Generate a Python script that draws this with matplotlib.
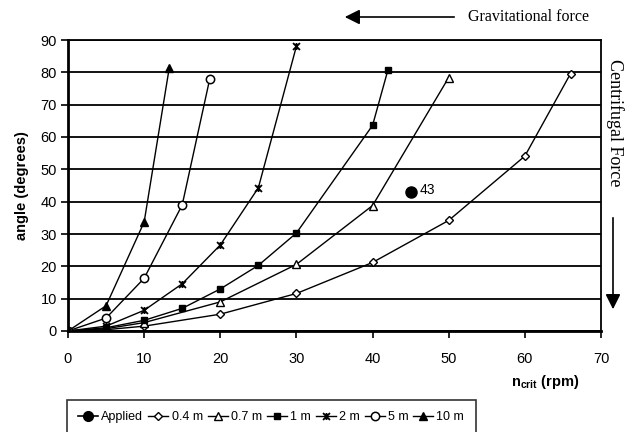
import matplotlib
matplotlib.use("Agg")
import matplotlib.pyplot as plt
from matplotlib.path import Path

plt.rcParams['font.family'] = ['Liberation Sans', 'DejaVu Sans']

applied_x = [45]
applied_y = [43]

x_04 = [0, 5, 10, 20, 30, 40, 50, 60, 66]
y_04 = [0, 0.4, 1.5, 5.2, 11.6, 21.2, 34.2, 54.1, 79.6]

x_07 = [0, 5, 10, 20, 30, 40, 50]
y_07 = [0, 0.7, 2.6, 9.0, 20.6, 38.8, 78.4]

x_1 = [0, 5, 10, 15, 20, 25, 30, 40, 42]
y_1 = [0, 1.0, 3.3, 7.0, 13.0, 20.3, 30.3, 63.6, 80.6]

x_2 = [0, 5, 10, 15, 20, 25, 30]
y_2 = [0, 1.5, 6.4, 14.6, 26.6, 44.3, 88.1]

x_5 = [0, 5, 10, 15, 18.6]
y_5 = [0, 4.0, 16.3, 39.0, 77.8]

x_10 = [0, 5, 10, 13.3]
y_10 = [0, 7.8, 33.7, 81.4]

x_ticks = [0, 10, 20, 30, 40, 50, 60, 70]
y_ticks = [0, 10, 20, 30, 40, 50, 60, 70, 80, 90]

star = Path([(-1, -1), (1, 1), (-1, 1), (1, -1), (0, -1), (0, 1)],
            [Path.MOVETO, Path.LINETO, Path.MOVETO, Path.LINETO, Path.MOVETO, Path.LINETO])

fig = plt.figure(figsize=(6.29, 4.32), dpi=100)
ax = fig.add_axes([68/629, 1-331/432, (601-68)/629, (331-40)/432])

lw = 1.0
ax.plot(applied_x, applied_y, color='black', marker='o', ms=8, lw=0, label='Applied')
ax.plot(x_04, y_04, color='black', lw=lw, marker='D', ms=4, mfc='white', mec='black', label='0.4 m')
ax.plot(x_07, y_07, color='black', lw=lw, marker='^', ms=5.5, mfc='white', mec='black', label='0.7 m')
ax.plot(x_1, y_1, color='black', lw=lw, marker='s', ms=5, mfc='black', mec='black', label='1 m')
ax.plot(x_2, y_2, color='black', lw=lw, marker=star, ms=5, mew=1.3, mec='black', label='2 m')
ax.plot(x_5, y_5, color='black', lw=lw, marker='o', ms=6, mfc='white', mec='black', mew=1.1, label='5 m')
ax.plot(x_10, y_10, color='black', lw=lw, marker='^', ms=5.5, mfc='black', mec='black', label='10 m')

ax.text(applied_x[0] + 1.2, applied_y[0] + 0.5, '43', fontsize=10, va='center', ha='left')

ax.set_xlim(0, 70)
ax.set_ylim(0, 90)
ax.set_xticks(x_ticks)
ax.set_yticks(y_ticks)
ax.tick_params(axis='both', direction='out', length=5, width=1.2, labelsize=10.5, colors='black')
ax.tick_params(axis='x', pad=10)
ax.tick_params(axis='y', pad=3)
ax.yaxis.grid(True, color='black', lw=1.3)
ax.set_axisbelow(True)
for s in ax.spines.values():
    s.set_linewidth(1.3)
ax.spines['bottom'].set_linewidth(2)
ax.spines['left'].set_linewidth(2)

ax.set_ylabel('angle (degrees)', fontsize=10.5, fontweight='bold', labelpad=8)
fig.text(545/629, 1-382/432, r'n$_{\mathregular{crit}}$ (rpm)', fontsize=10.5, fontweight='bold', ha='center', va='center')

# force annotations
fig.text(468/629, 1-17/432, 'Gravitational force', family='Liberation Serif', fontsize=11.5, ha='left', va='center')
fig.patches.append(matplotlib.patches.FancyArrowPatch(
    (457/629, 1-17/432), (342/629, 1-17/432), transform=fig.transFigure,
    arrowstyle='-|>,head_length=9,head_width=4.5', color='black', lw=1.2, mutation_scale=1))
fig.text(615/629, 1-123/432, 'Centrifugal Force', family='Liberation Serif', fontsize=13,
         rotation=-90, ha='center', va='center')
fig.patches.append(matplotlib.patches.FancyArrowPatch(
    (613/629, 1-215/432), (613/629, 1-312/432), transform=fig.transFigure,
    arrowstyle='-|>,head_length=9,head_width=4.5', color='black', lw=1.2, mutation_scale=1))

h, l = ax.get_legend_handles_labels()
h[0] = matplotlib.lines.Line2D([], [], color='black', lw=1.2, marker='o', ms=7)
leg = fig.legend(h, l, loc='upper left', bbox_to_anchor=(67/629, 1-400/432), ncol=7,
                 frameon=True, fancybox=False, edgecolor='black', fontsize=9,
                 handlelength=1.6, handletextpad=0.25, columnspacing=0.4, borderpad=0.9,
                 borderaxespad=0)
leg.get_frame().set_linewidth(1.2)

fig.savefig('out.png', dpi=100)
